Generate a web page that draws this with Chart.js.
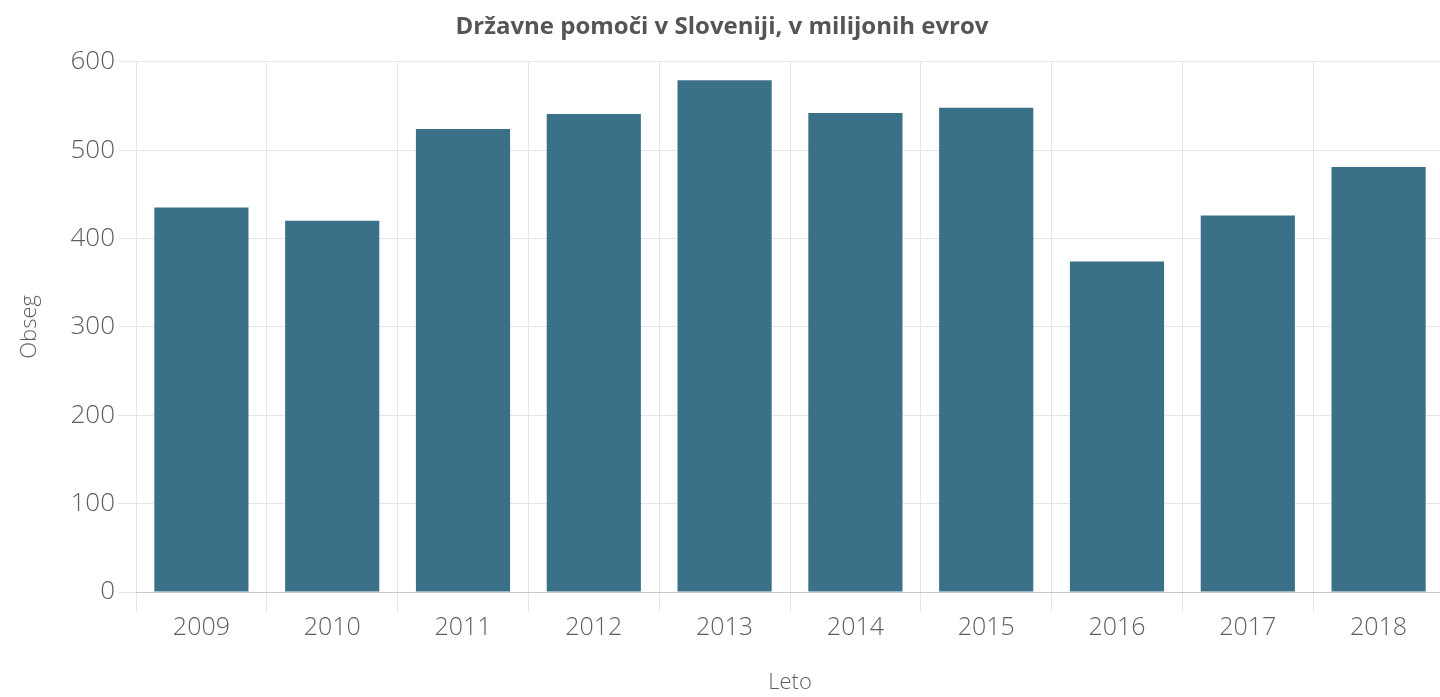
<!DOCTYPE html>
<html>
<head>
<meta charset="utf-8">
<script src="https://cdn.jsdelivr.net/npm/chart.js@4"></script>
<style>
  html, body { margin: 0; padding: 0; overflow: hidden; background: #fff; }
  #okvir { width: 1444px; height: 697px; }
</style>
</head>
<body>
<div id="okvir"><canvas id="graficaPomoci"></canvas></div>
<script>
// ===============================
// PODATKI
// ===============================
const leta = ["2009", "2010", "2011", "2012", "2013", "2014", "2015", "2016", "2017", "2018"];
const obseg = [435, 420, 524, 541, 579, 542, 548, 374, 426, 481];
const oznakeY = [0, 100, 200, 300, 400, 500, 600];

const sivaBesedilo = "#5f5f5f";
const sivaMreza = "#e6e6e6";

// ===============================
// GRAFIKON: STOLPCI - DRŽAVNE POMOČI
// ===============================
new Chart(document.getElementById("graficaPomoci"), {
    type: "bar",
    data: {
        labels: leta,
        datasets: [{
            label: "Obseg",
            data: obseg,
            backgroundColor: "#3b7188",
            borderWidth: 0,
            categoryPercentage: 1,
            barPercentage: 0.72
        }]
    },
    options: {
        responsive: true,
        maintainAspectRatio: false,
        animation: false,
        layout: { padding: 0 },
        plugins: {
            legend: { display: false },
            tooltip: { enabled: false },
            title: {
                display: true,
                text: "Državne pomoči v Sloveniji, v milijonih evrov",
                color: "#555",
                font: { family: "Open Sans", size: 24, weight: "bold" },
                padding: { top: 13, bottom: 20 }
            }
        },
        scales: {
            x: {
                grid: { color: sivaMreza, tickLength: 20, offset: true },
                border: { color: "#c8c8c8" },
                ticks: {
                    color: sivaBesedilo,
                    font: { family: "Open Sans", size: 25, weight: 300 },
                    padding: 1,
                    maxRotation: 0
                },
                title: {
                    display: true,
                    text: "Leto",
                    color: sivaBesedilo,
                    font: { family: "Open Sans", size: 22, weight: 300 },
                    padding: { top: 0, bottom: 1 }
                },
                afterFit: s => { s.height = 105; }
            },
            y: {
                min: 0,
                max: 600,
                afterBuildTicks: s => { s.ticks = oznakeY.map(v => ({ value: v })); },
                grid: { color: sivaMreza, tickLength: 18 },
                border: { display: false },
                ticks: {
                    color: sivaBesedilo,
                    font: { family: "Open Sans", size: 26, weight: 300 },
                    padding: 3
                },
                title: {
                    display: true,
                    text: "Obseg",
                    color: sivaBesedilo,
                    font: { family: "Open Sans", size: 22, weight: 300 },
                    padding: { top: 17, bottom: 0 }
                },
                afterFit: s => { s.width = 136; }
            }
        }
    }
});
</script>
</body>
</html>
